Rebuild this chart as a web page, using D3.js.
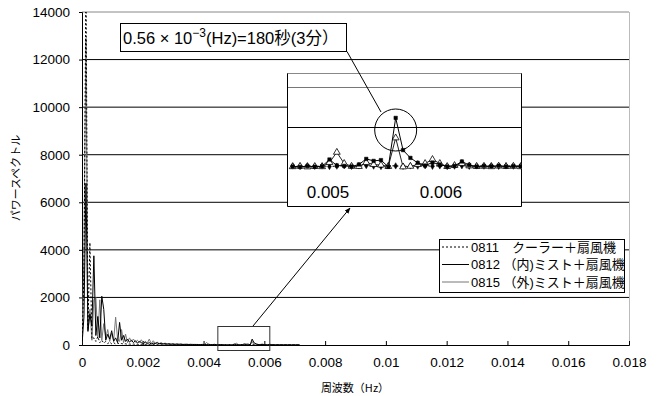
<!DOCTYPE html>
<html><head><meta charset="utf-8">
<script src="https://cdn.jsdelivr.net/npm/d3@7"></script>
<style>body{margin:0;background:#fff}text{font-family:"Liberation Sans","Noto Sans CJK JP",sans-serif}</style>
</head><body>
<svg id="c" width="657" height="396"></svg>
<script>
// frequency resolution of the spectra (Hz per bin)
const freqStep = 1 / 15360;
const seriesNames = ["0811\u3000クーラー＋扇風機", "0812 （内)ミスト＋扇風機", "0815 （外)ミスト＋扇風機"];
const s0811 = [0,3000,15500,700,4300,250,300,150,350,100,200,80,150,60,120,50,100,40,80,50,60,40,50,30,40,30,40,25,30,20,30,20,25,15,20,15,20,
  15,12,18,10,14,9,12,8,11,9,10,8,9,7,10,8,9,7,8,6,9,7,8,6,7,8,6,7,9,6,8,7,6,8,7,
  8,5,9,6,8,5,7,9,6,8,10,7,5,9,8,6,8,7,9,6,8,5,7,9,6,8,7,9,6,8,7,8,
  7,6,8,5,7,6,7];
const s0812 = [0,1200,6800,600,1300,800,3750,400,1200,300,2050,1500,200,450,250,600,150,300,100,950,200,400,150,250,120,200,100,180,80,150,100,60,120,50,100,40,80,
  60,90,50,70,40,60,35,50,30,45,25,40,30,35,20,30,25,20,30,15,25,20,15,20,25,15,20,30,15,20,25,15,20,12,15,
  5,3,7,4,6,40,10,8,5,15,43,33,37,3,248,87,48,23,10,25,15,5,8,30,12,5,8,6,9,5,7,6,
  6,8,5,7,6,5,6];
const s0815 = [0,4000,12900,550,1500,200,1900,2000,300,1900,200,900,300,650,150,500,200,1170,250,150,650,100,460,100,300,150,250,120,200,100,220,80,150,80,250,60,180,
  80,120,60,100,50,80,40,60,35,50,30,45,25,40,30,20,35,25,20,30,15,25,20,15,20,30,110,25,20,15,25,12,20,15,10,
  4,6,3,5,4,25,76,20,6,5,25,15,12,5,148,3,6,15,20,40,20,5,10,20,8,5,6,4,7,5,6,4,
  5,6,4,5,6,4,5];
const xTicks = [0,0.002,0.004,0.006,0.008,0.01,0.012,0.014,0.016,0.018];
const xTickLabels = ["0","0.002","0.004","0.006","0.008","0.01","0.012","0.014","0.016","0.018"];
const yTicks = [0,2000,4000,6000,8000,10000,12000,14000];
const insetRange = [72, 103];           // bins shown in the magnified view
const insetTicks = [0.005, 0.006];
const insetTickLabels = ["0.005", "0.006"];
const insetGrid = [200, 400];
const zoomBox = [0.00447, 0.00618];      // region marked on the main chart
const annotation = ["0.56 × 10", "−3", "(Hz)=180秒(3分）"];

const svg = d3.select("#c");
const x = d3.scaleLinear().domain([0, 0.018]).range([82, 629]);
const y = d3.scaleLinear().domain([0, 14000]).range([345, 12]);

const series = [
  {name: seriesNames[0], vals: s0811, color: "#000", dash: "2,2", marker: "dot"},
  {name: seriesNames[1], vals: s0812, color: "#000", dash: null, marker: "square"},
  {name: seriesNames[2], vals: s0815, color: "#777", dash: null, marker: "tri"}
];
series.forEach(s => s.pts = s.vals.map((v, i) => ({f: i * freqStep, v})));

// gridlines
svg.append("g").selectAll("line").data(yTicks.filter(d => d > 0)).join("line")
  .attr("x1", 82).attr("x2", 629).attr("y1", d => y(d)).attr("y2", d => y(d))
  .attr("stroke", d => d === 14000 ? "#888" : "#000").attr("stroke-width", 1);
svg.append("line").attr("x1", 629.5).attr("x2", 629.5).attr("y1", 12).attr("y2", 345).attr("stroke", "#bbb");

// axes
const yAxis = svg.append("g").attr("transform", "translate(82,0)")
  .call(d3.axisLeft(y).tickValues(yTicks).tickSize(3).tickPadding(9).tickFormat(d3.format("d")));
const xAxis = svg.append("g").attr("transform", "translate(0,345)")
  .call(d3.axisBottom(x).tickValues(xTicks).tickSize(-4).tickPadding(12).tickFormat((d, i) => xTickLabels[i]));
[yAxis, xAxis].forEach(a => {
  a.select(".domain").attr("stroke", "#000");
  a.selectAll(".tick line").attr("stroke", "#000");
  a.selectAll("text").attr("font-size", "13.5px").attr("fill", "#000").style("font-family", "Liberation Sans, Arial");
});

svg.append("defs").append("clipPath").attr("id", "pc").append("rect")
  .attr("x", 82).attr("y", 12).attr("width", 547).attr("height", 333);
svg.select("defs").append("clipPath").attr("id", "ic").append("rect")
  .attr("x", 287).attr("y", 73).attr("width", 235).attr("height", 134);

const line = d3.line().x(d => x(d.f)).y(d => y(d.v));
const gMain = svg.append("g").attr("clip-path", "url(#pc)");
[series[2], series[1], series[0]].forEach(s => {
  gMain.append("path").datum(s.pts).attr("d", line).attr("fill", "none")
    .attr("stroke", s.color).attr("stroke-width", 1).attr("stroke-dasharray", s.dash);
});

// zoom box and arrow
svg.append("rect").attr("x", x(zoomBox[0])).attr("y", 326.5).attr("width", x(zoomBox[1]) - x(zoomBox[0])).attr("height", 24)
  .attr("fill", "none").attr("stroke", "#333");
svg.select("defs").append("marker").attr("id", "ah").attr("viewBox", "0 0 10 10").attr("refX", 9).attr("refY", 5)
  .attr("markerWidth", 6).attr("markerHeight", 6).attr("orient", "auto")
  .append("path").attr("d", "M0,1L10,5L0,9Z").attr("fill", "#000");
svg.append("line").attr("x1", 253).attr("y1", 326).attr("x2", 350).attr("y2", 208)
  .attr("stroke", "#000").attr("marker-end", "url(#ah)");

// inset
const xi = d3.scaleLinear().domain([0.005, 0.006]).range([328, 441]);
const yi = d3.scaleLinear().domain([0, 200]).range([167.5, 127.5]);
const gi = svg.append("g");
gi.append("rect").attr("x", 287).attr("y", 73).attr("width", 235).attr("height", 134).attr("fill", "#fff");
gi.selectAll(".ig").data(insetGrid).join("line").attr("class", "ig")
  .attr("x1", 287).attr("x2", 522).attr("y1", d => yi(d)).attr("y2", d => yi(d))
  .attr("stroke", (d, i) => i ? "#777" : "#000");
gi.append("line").attr("x1", 287).attr("x2", 522).attr("y1", 73.5).attr("y2", 73.5).attr("stroke", "#888");
gi.append("path").attr("d", "M287.5,73.5V206.5H521.5V73.5").attr("fill", "none").attr("stroke", "#000");
gi.selectAll(".il").data(insetTicks).join("text").attr("class", "il")
  .attr("x", d => xi(d)).attr("y", 198).attr("text-anchor", "middle").attr("font-size", "17px").text((d, i) => insetTickLabels[i]);
const gic = gi.append("g").attr("clip-path", "url(#ic)");
const iline = d3.line().x(d => xi(d.f)).y(d => yi(d.v));
[series[0], series[2], series[1]].forEach(s => {
  const sub = s.pts.slice(insetRange[0], insetRange[1] + 1);
  gic.append("path").datum(sub).attr("d", iline).attr("fill", "none")
    .attr("stroke", s.marker === "tri" ? "#222" : "#000").attr("stroke-width", 1).attr("stroke-dasharray", s.dash);
  const sym = s.marker === "square" ? d3.symbolSquare : s.marker === "tri" ? d3.symbolTriangle : d3.symbolDiamond;
  const size = s.marker === "square" ? 12 : s.marker === "tri" ? 20 : 12;
  gic.selectAll(null).data(sub).join("path")
    .attr("transform", d => `translate(${xi(d.f)},${yi(d.v)})`)
    .attr("d", d3.symbol(sym, size))
    .attr("fill", s.marker === "tri" ? "#fff" : "#000").attr("stroke", "#000").attr("stroke-width", s.marker === "tri" ? 0.8 : 0.5);
});

// circle and callout
const peak = series[1].pts[86];
svg.append("circle").attr("cx", xi(peak.f)).attr("cy", 130).attr("r", 21).attr("fill", "none").attr("stroke", "#000");
svg.append("line").attr("x1", 381).attr("y1", 112).attr("x2", 347).attr("y2", 51.5).attr("stroke", "#000");
svg.append("rect").attr("x", 120.5).attr("y", 23.5).attr("width", 226).attr("height", 28).attr("fill", "#fff").attr("stroke", "#000");
const at = svg.append("text").attr("x", 123).attr("y", 43.5).attr("font-size", "16.5px");
at.append("tspan").text(annotation[0]);
at.append("tspan").attr("dy", -7).attr("font-size", "12px").text(annotation[1]);
at.append("tspan").attr("dy", 7).text(annotation[2]);

// legend
const lg = svg.append("g");
lg.append("rect").attr("x", 439.5).attr("y", 239.5).attr("width", 185).attr("height", 53).attr("fill", "#fff").attr("stroke", "#000");
series.forEach((s, i) => {
  const yy = 247 + i * 17.5;
  lg.append("line").attr("x1", 442).attr("x2", 469).attr("y1", yy).attr("y2", yy)
    .attr("stroke", s.color).attr("stroke-dasharray", s.dash);
  lg.append("text").attr("x", 471).attr("y", yy + 4.5).attr("font-size", "13px").text(s.name);
});

// axis titles
svg.append("text").attr("transform", "translate(20,178) rotate(-90)").attr("text-anchor", "middle")
  .attr("font-size", "11px").style("font-family", "Noto Sans CJK JP").text("パワースペクトル");
svg.append("text").attr("x", 355).attr("y", 392).attr("text-anchor", "middle")
  .attr("font-size", "11px").style("font-family", "Noto Sans CJK JP").text("周波数（Hz）");
</script>
</body></html>
